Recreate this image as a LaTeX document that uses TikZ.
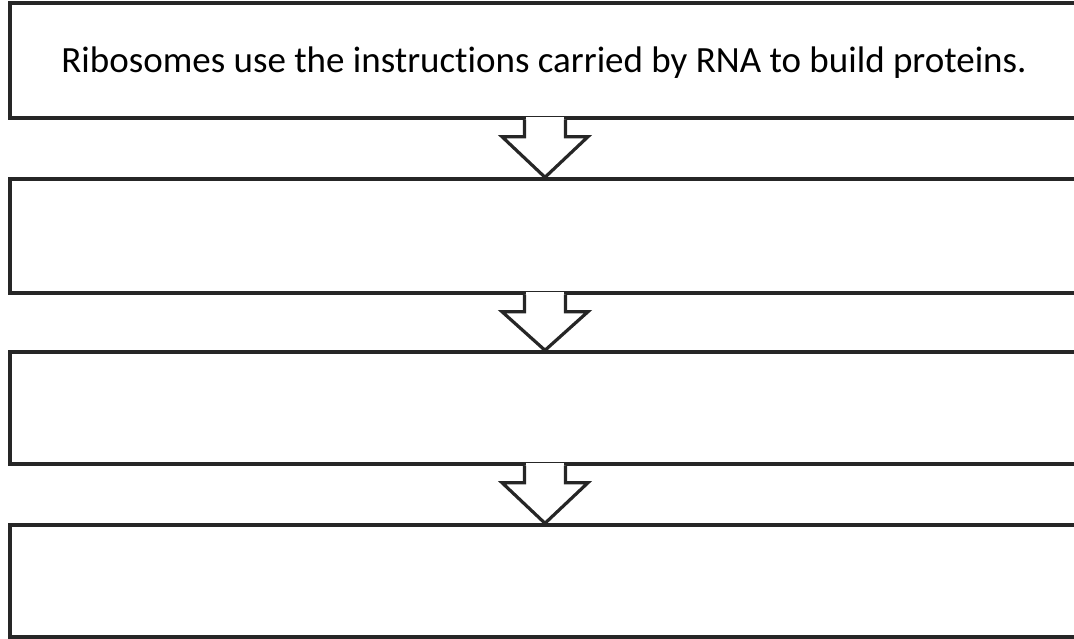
\documentclass[tikz,border=0pt]{standalone}
\usepackage{fontspec}
\setmainfont{Carlito}[Ligatures={NoCommon}]
\usetikzlibrary{calc}
\tikzset{
  flowbox/.style={draw=black!85, line width=3.4pt, minimum width=1070, inner sep=0pt, font=\fontsize{37}{40}\selectfont},
  arrowline/.style={draw=black!85, line width=3.2pt, line join=miter, fill=white},
}
\newcommand{\flowarrow}[2]{%
  \fill[white] ($(#1.south)+(-19,-3)$) rectangle ($(#1.south)+(19,3)$);
  \draw[arrowline] ($(#1.south)+(-20.5,0)$) -- ++(0,17) -- ++(-22.5,0) -- (#2.north)
    -- ($(#1.south)+(43,17)$) -- ++(-22.5,0) -- ++(0,-17);
}
\begin{document}
\begin{tikzpicture}[x=1pt,y=-1pt]
  \useasboundingbox (0,0) rectangle (1074,639);
  \clip (0,0) rectangle (1074,639);
  \node[flowbox, minimum height=115] (b1) at (545,60.5) {};
  \node[font=\fontsize{37}{40}\selectfont, inner sep=0pt] (t1) at (544,63) {Ribosomes use the instructions carried by RNA to build proteins.};
  \node[flowbox, minimum height=114] (b2) at (545,236) {};
  \node[flowbox, minimum height=112] (b3) at (545,408) {};
  \node[flowbox, minimum height=112] (b4) at (545,581) {};
  \flowarrow{b1}{b2}
  \flowarrow{b2}{b3}
  \flowarrow{b3}{b4}
\end{tikzpicture}
\end{document}
